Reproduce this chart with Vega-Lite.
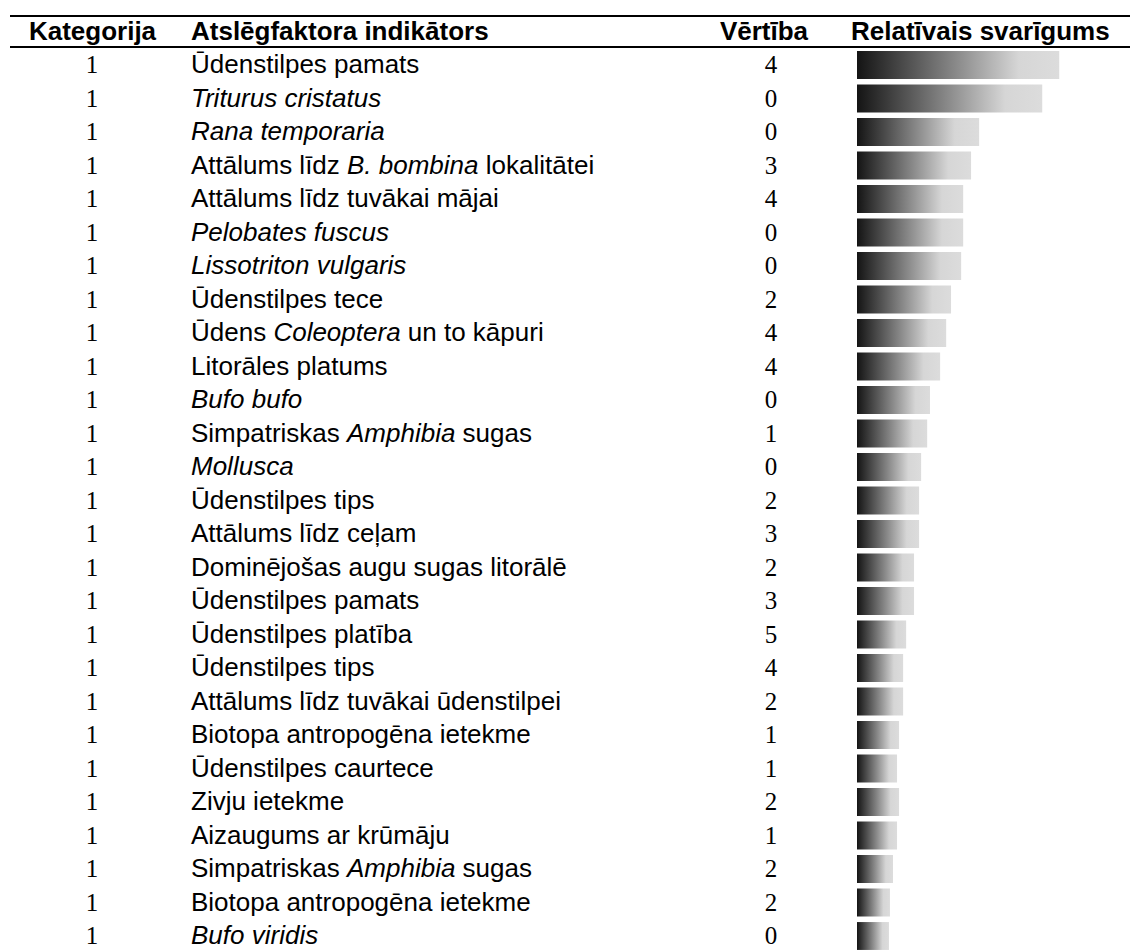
{
  "$schema": "https://vega.github.io/schema/vega-lite/v6.json",
  "padding": {"left": 9, "top": 14.75, "right": 0, "bottom": 0},
  "background": "white",
  "spacing": 0,
  "bounds": "flush",
  "config": {"view": {"stroke": null}},
  "datasets": {
    "rows": [
      {"row": 1, "kat": 1, "pre": "Ūdenstilpes pamats", "ital": "", "post": "", "val": 4, "imp": 100},
      {"row": 2, "kat": 1, "pre": "", "ital": "Triturus cristatus", "post": "", "val": 0, "imp": 91.6},
      {"row": 3, "kat": 1, "pre": "", "ital": "Rana temporaria", "post": "", "val": 0, "imp": 60.4},
      {"row": 4, "kat": 1, "pre": "Attālums līdz", "ital": "B. bombina", "post": "lokalitātei", "val": 3, "imp": 56.4},
      {"row": 5, "kat": 1, "pre": "Attālums līdz tuvākai mājai", "ital": "", "post": "", "val": 4, "imp": 52.5},
      {"row": 6, "kat": 1, "pre": "", "ital": "Pelobates fuscus", "post": "", "val": 0, "imp": 52.5},
      {"row": 7, "kat": 1, "pre": "", "ital": "Lissotriton vulgaris", "post": "", "val": 0, "imp": 51.5},
      {"row": 8, "kat": 1, "pre": "Ūdenstilpes tece", "ital": "", "post": "", "val": 2, "imp": 46.5},
      {"row": 9, "kat": 1, "pre": "Ūdens", "ital": "Coleoptera", "post": "un to kāpuri", "val": 4, "imp": 44.1},
      {"row": 10, "kat": 1, "pre": "Litorāles platums", "ital": "", "post": "", "val": 4, "imp": 41.1},
      {"row": 11, "kat": 1, "pre": "", "ital": "Bufo bufo", "post": "", "val": 0, "imp": 36.1},
      {"row": 12, "kat": 1, "pre": "Simpatriskas", "ital": "Amphibia", "post": "sugas", "val": 1, "imp": 34.7},
      {"row": 13, "kat": 1, "pre": "", "ital": "Mollusca", "post": "", "val": 0, "imp": 31.7},
      {"row": 14, "kat": 1, "pre": "Ūdenstilpes tips", "ital": "", "post": "", "val": 2, "imp": 30.7},
      {"row": 15, "kat": 1, "pre": "Attālums līdz ceļam", "ital": "", "post": "", "val": 3, "imp": 30.7},
      {"row": 16, "kat": 1, "pre": "Dominējošas augu sugas litorālē", "ital": "", "post": "", "val": 2, "imp": 28.2},
      {"row": 17, "kat": 1, "pre": "Ūdenstilpes pamats", "ital": "", "post": "", "val": 3, "imp": 28.2},
      {"row": 18, "kat": 1, "pre": "Ūdenstilpes platība", "ital": "", "post": "", "val": 5, "imp": 24.3},
      {"row": 19, "kat": 1, "pre": "Ūdenstilpes tips", "ital": "", "post": "", "val": 4, "imp": 22.8},
      {"row": 20, "kat": 1, "pre": "Attālums līdz tuvākai ūdenstilpei", "ital": "", "post": "", "val": 2, "imp": 22.8},
      {"row": 21, "kat": 1, "pre": "Biotopa antropogēna ietekme", "ital": "", "post": "", "val": 1, "imp": 20.8},
      {"row": 22, "kat": 1, "pre": "Ūdenstilpes caurtece", "ital": "", "post": "", "val": 1, "imp": 19.8},
      {"row": 23, "kat": 1, "pre": "Zivju ietekme", "ital": "", "post": "", "val": 2, "imp": 20.8},
      {"row": 24, "kat": 1, "pre": "Aizaugums ar krūmāju", "ital": "", "post": "", "val": 1, "imp": 19.8},
      {"row": 25, "kat": 1, "pre": "Simpatriskas", "ital": "Amphibia", "post": "sugas", "val": 2, "imp": 17.8},
      {"row": 26, "kat": 1, "pre": "Biotopa antropogēna ietekme", "ital": "", "post": "", "val": 2, "imp": 16.3},
      {"row": 27, "kat": 1, "pre": "", "ital": "Bufo viridis", "post": "", "val": 0, "imp": 15.8}
    ]
  },
  "hconcat": [
    {
      "width": 847,
      "height": 938,
      "data": {"name": "rows"},
      "encoding": {
        "y": {"field": "row", "type": "ordinal", "axis": null, "scale": {"type": "band", "domain": [0,1,2,3,4,5,6,7,8,9,10,11,12,13,14,15,16,17,18,19,20,21,22,23,24,25,26,27], "paddingInner": 0.075, "paddingOuter": 0.0375}}
      },
      "layer": [
        {
          "data": {"values": [{"row": 0}]},
          "mark": {"type": "rule", "color": "#000000", "strokeWidth": 2},
          "encoding": {"y": {"field": "row", "type": "ordinal", "bandPosition": 0, "axis": null, "scale": {"type": "band", "domain": [0,1,2,3,4,5,6,7,8,9,10,11,12,13,14,15,16,17,18,19,20,21,22,23,24,25,26,27], "paddingInner": 0.075, "paddingOuter": 0.0375}}}
        },
        {
          "data": {"values": [{"row": 0}]},
          "mark": {"type": "rule", "color": "#000000", "strokeWidth": 2},
          "encoding": {"y": {"field": "row", "type": "ordinal", "bandPosition": 1, "axis": null, "scale": {"type": "band", "domain": [0,1,2,3,4,5,6,7,8,9,10,11,12,13,14,15,16,17,18,19,20,21,22,23,24,25,26,27], "paddingInner": 0.075, "paddingOuter": 0.0375}}}
        },
        {
          "data": {"values": [{"row": 0, "h": "Kategorija"}]},
          "mark": {"type": "text", "font": "Liberation Sans", "fontWeight": "bold", "fontSize": 26, "align": "center", "baseline": "middle", "x": 82.5, "color": "#000000"},
          "encoding": {"text": {"field": "h"}}
        },
        {
          "data": {"values": [{"row": 0, "h": "Atslēgfaktora indikātors"}]},
          "mark": {"type": "text", "font": "Liberation Sans", "fontWeight": "bold", "fontSize": 26, "align": "left", "baseline": "middle", "x": 181, "color": "#000000"},
          "encoding": {"text": {"field": "h"}}
        },
        {
          "data": {"values": [{"row": 0, "h": "Vērtība"}]},
          "mark": {"type": "text", "font": "Liberation Sans", "fontWeight": "bold", "fontSize": 26, "align": "center", "baseline": "middle", "x": 754, "color": "#000000"},
          "encoding": {"text": {"field": "h"}}
        },
        {
          "mark": {"type": "text", "font": "Liberation Serif", "fontSize": 25, "align": "center", "baseline": "middle", "x": 82, "color": "#000000"},
          "encoding": {"text": {"field": "kat"}}
        },
        {
          "mark": {"type": "text", "font": "Liberation Sans", "fontSize": 26, "align": "left", "baseline": "middle", "x": 181, "color": "#000000"},
          "encoding": {"text": {"field": "pre"}}
        },
        {
          "transform": [{"filter": "datum.pre === ''"}],
          "mark": {"type": "text", "font": "Liberation Sans", "fontStyle": "italic", "fontSize": 26, "align": "left", "baseline": "middle", "x": 181, "color": "#000000"},
          "encoding": {"text": {"field": "ital"}}
        },
        {
          "transform": [{"filter": "datum.pre === 'Attālums līdz' || datum.pre === 'Simpatriskas'"}],
          "mark": {"type": "text", "font": "Liberation Sans", "fontStyle": "italic", "fontSize": 26, "align": "left", "baseline": "middle", "x": 181, "dx": 156, "color": "#000000"},
          "encoding": {"text": {"field": "ital"}}
        },
        {
          "transform": [{"filter": "datum.pre === 'Ūdens'"}],
          "mark": {"type": "text", "font": "Liberation Sans", "fontStyle": "italic", "fontSize": 26, "align": "left", "baseline": "middle", "x": 181, "dx": 82.4, "color": "#000000"},
          "encoding": {"text": {"field": "ital"}}
        },
        {
          "transform": [{"filter": "datum.post === 'lokalitātei'"}],
          "mark": {"type": "text", "font": "Liberation Sans", "fontSize": 26, "align": "left", "baseline": "middle", "x": 181, "dx": 294.8, "color": "#000000"},
          "encoding": {"text": {"field": "post"}}
        },
        {
          "transform": [{"filter": "datum.post === 'un to kāpuri'"}],
          "mark": {"type": "text", "font": "Liberation Sans", "fontSize": 26, "align": "left", "baseline": "middle", "x": 181, "dx": 216.8, "color": "#000000"},
          "encoding": {"text": {"field": "post"}}
        },
        {
          "transform": [{"filter": "datum.post === 'sugas'"}],
          "mark": {"type": "text", "font": "Liberation Sans", "fontSize": 26, "align": "left", "baseline": "middle", "x": 181, "dx": 271.6, "color": "#000000"},
          "encoding": {"text": {"field": "post"}}
        },
        {
          "mark": {"type": "text", "font": "Liberation Serif", "fontSize": 25, "align": "center", "baseline": "middle", "x": 761, "color": "#000000"},
          "encoding": {"text": {"field": "val"}}
        }
      ]
    },
    {
      "width": 273,
      "height": 938,
      "data": {"name": "rows"},
      "encoding": {
        "y": {"field": "row", "type": "ordinal", "axis": null, "scale": {"type": "band", "domain": [0,1,2,3,4,5,6,7,8,9,10,11,12,13,14,15,16,17,18,19,20,21,22,23,24,25,26,27], "paddingInner": 0.075, "paddingOuter": 0.0375}}
      },
      "layer": [
        {
          "data": {"values": [{"row": 0}]},
          "mark": {"type": "rule", "color": "#000000", "strokeWidth": 2},
          "encoding": {"y": {"field": "row", "type": "ordinal", "bandPosition": 0, "axis": null, "scale": {"type": "band", "domain": [0,1,2,3,4,5,6,7,8,9,10,11,12,13,14,15,16,17,18,19,20,21,22,23,24,25,26,27], "paddingInner": 0.075, "paddingOuter": 0.0375}}}
        },
        {
          "data": {"values": [{"row": 0}]},
          "mark": {"type": "rule", "color": "#000000", "strokeWidth": 2},
          "encoding": {"y": {"field": "row", "type": "ordinal", "bandPosition": 1, "axis": null, "scale": {"type": "band", "domain": [0,1,2,3,4,5,6,7,8,9,10,11,12,13,14,15,16,17,18,19,20,21,22,23,24,25,26,27], "paddingInner": 0.075, "paddingOuter": 0.0375}}}
        },
        {
          "data": {"values": [{"row": 0, "h": "Relatīvais svarīgums"}]},
          "mark": {"type": "text", "font": "Liberation Sans", "fontWeight": "bold", "fontSize": 26, "align": "left", "baseline": "middle", "x": -6, "color": "#000000"},
          "encoding": {"text": {"field": "h"}}
        },
        {
          "mark": {
            "type": "bar",
            "height": {"band": 0.9},
            "color": {
              "gradient": "linear",
              "x1": 0, "y1": 0, "x2": 1, "y2": 0,
              "stops": [
                {"offset": 0, "color": "#141414"},
                {"offset": 0.5, "color": "#8c8c8c"},
                {"offset": 0.8, "color": "#d6d6d6"},
                {"offset": 1, "color": "#dcdcdc"}
              ]
            }
          },
          "encoding": {
            "x": {"field": "imp", "type": "quantitative", "axis": null, "scale": {"domain": [0, 135], "nice": false, "zero": true}}
          }
        }
      ]
    }
  ]
}
